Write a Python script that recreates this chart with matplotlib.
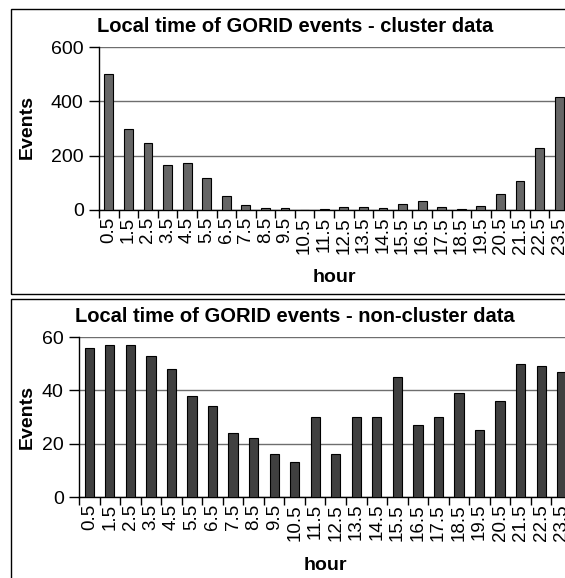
import numpy as np
import matplotlib
matplotlib.use("Agg")
import matplotlib.pyplot as plt
from matplotlib.patches import Rectangle
from matplotlib.ticker import FixedLocator

plt.rcParams['font.family'] = ['Liberation Sans', 'DejaVu Sans']

# hour bins (local time)
hours = ['0.5', '1.5', '2.5', '3.5', '4.5', '5.5', '6.5', '7.5', '8.5', '9.5',
         '10.5', '11.5', '12.5', '13.5', '14.5', '15.5', '16.5', '17.5',
         '18.5', '19.5', '20.5', '21.5', '22.5', '23.5']

cluster_events = [500, 300, 245, 165, 172, 117, 52, 17, 6, 6, 0, 4, 10, 10,
                  6, 23, 33, 10, 5, 15, 58, 107, 228, 415]

noncluster_events = [56, 57, 57, 53, 48, 38, 34, 24, 22, 16, 13, 30, 16, 30,
                     30, 45, 27, 30, 39, 25, 36, 50, 49, 47]

W, H = 565, 578
fig = plt.figure(figsize=(W / 100, H / 100), dpi=100)

def px(x0, y_top, x1, y_bot):
    # pixel box -> figure fraction [left, bottom, width, height]
    return [x0 / W, 1 - y_bot / H, (x1 - x0) / W, (y_bot - y_top) / H]

# panel frames
fig.patches.append(Rectangle((11 / W, 1 - 294 / H), 1.2, 285 / H,
                             transform=fig.transFigure, fill=False,
                             edgecolor='black', lw=1.0))
fig.patches.append(Rectangle((11 / W, -0.1), 1.2, 0.1 + 1 - 299 / H,
                             transform=fig.transFigure, fill=False,
                             edgecolor='black', lw=1.0))

panels = [
    (cluster_events, '#666666', [0, 200, 400, 600],
     px(99, 47, 569, 210), 'Local time of GORID events - cluster data',
     26, 127, 277),
    (noncluster_events, '#404040', [0, 20, 40, 60],
     px(79, 337, 572, 497), 'Local time of GORID events - non-cluster data',
     316, 417, 565),
]

for vals, col, yt, rect, title, ty, ly, hy in panels:
    ax = fig.add_axes(rect)
    x = np.arange(len(hours))
    ax.bar(x, vals, width=0.45, color=col, edgecolor='black', linewidth=0.8,
           zorder=3)
    ax.set_xlim(-0.5, len(hours) - 0.5)
    ax.set_ylim(yt[0], yt[-1])
    ax.set_yticks(yt)
    ax.yaxis.grid(True, color='#6e6e6e', lw=1.0, zorder=0)
    ax.set_axisbelow(True)
    for s in ['top', 'right']:
        ax.spines[s].set_visible(False)
    ax.spines['left'].set_linewidth(1.0)
    ax.spines['bottom'].set_linewidth(1.0)
    ax.set_xticks(x)
    ax.set_xticklabels(hours, rotation=90, fontsize=13.5)
    ax.xaxis.set_minor_locator(FixedLocator(np.arange(-0.5, len(hours), 1)))
    ax.tick_params(axis='x', which='major', length=0, pad=5)
    ax.tick_params(axis='x', which='minor', length=6, width=1.0, direction='out')
    ax.tick_params(axis='y', length=7, width=1.0, labelsize=14, pad=4)
    fig.text(295 / W, 1 - ty / H, title, ha='center', va='center',
             fontsize=14.5, fontweight='bold')
    fig.text(27 / W, 1 - ly / H, 'Events', ha='center', va='center',
             rotation=90, fontsize=14, fontweight='bold')
    fig.text((rect[0] + rect[2] / 2 - 0.0), 1 - hy / H, 'hour', ha='center',
             va='center', fontsize=14, fontweight='bold')

fig.savefig('out.png', dpi=100)
